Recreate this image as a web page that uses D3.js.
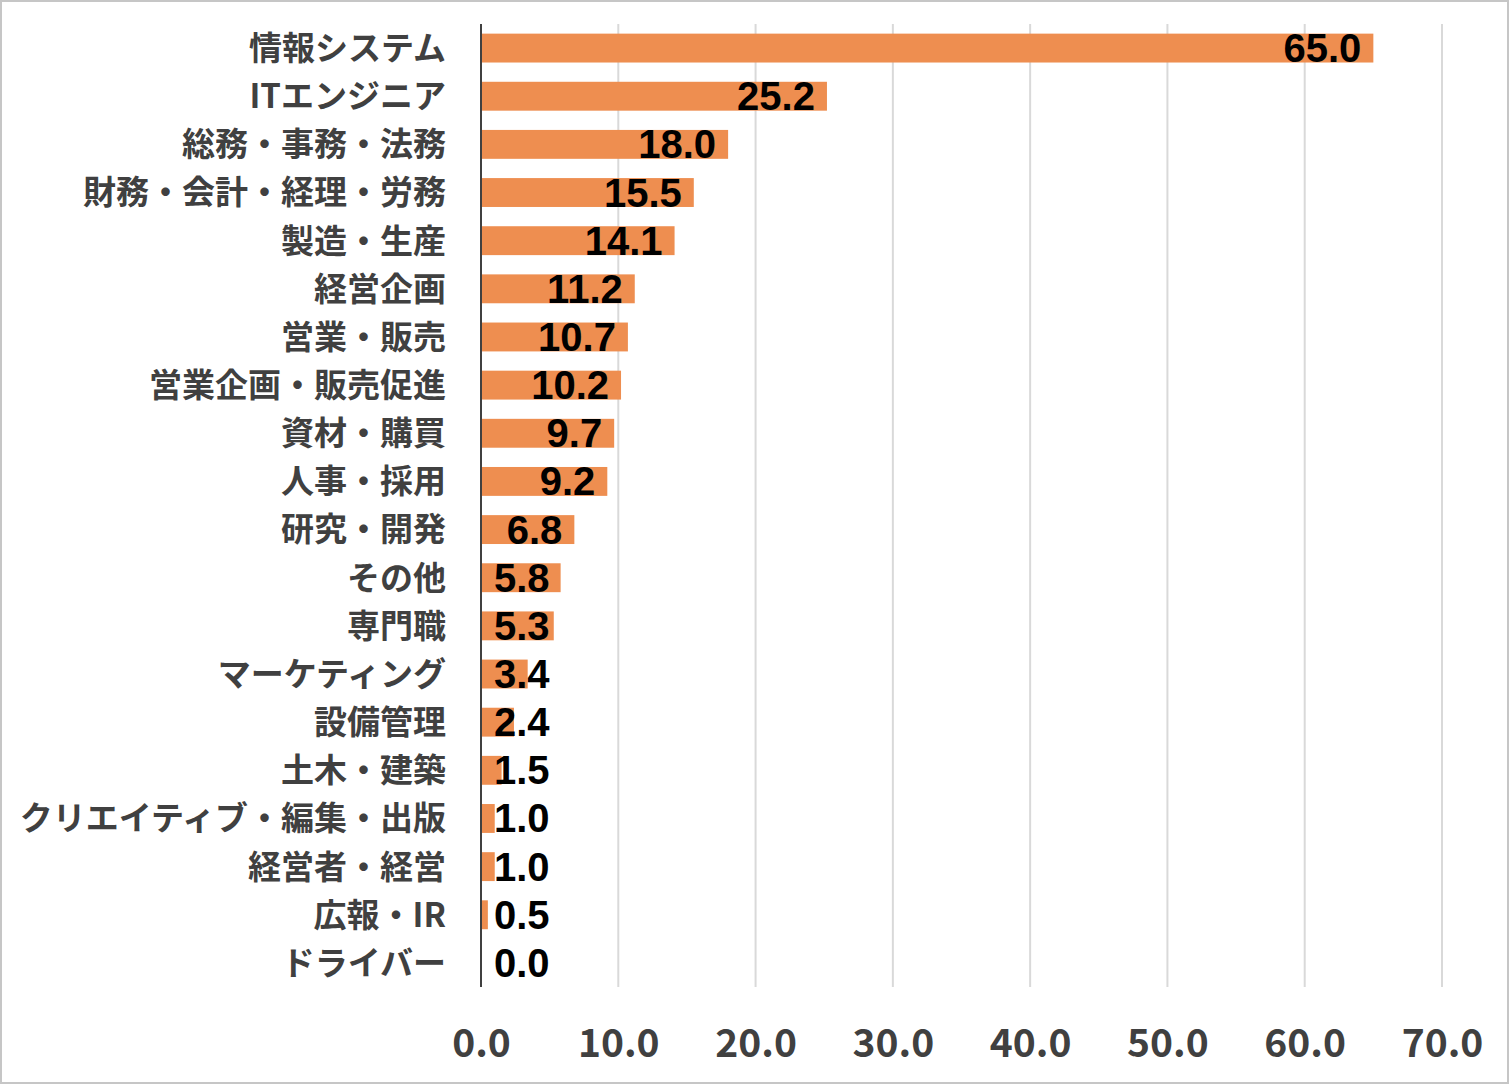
<!DOCTYPE html>
<html><head><meta charset="utf-8">
<script src="https://cdn.jsdelivr.net/npm/d3@7/dist/d3.min.js"></script>
<style>
html,body{margin:0;padding:0;background:#fff;}
svg{display:block;}
</style></head>
<body>
<script>
const categories = ["情報システム","ITエンジニア","総務・事務・法務","財務・会計・経理・労務","製造・生産","経営企画","営業・販売","営業企画・販売促進","資材・購買","人事・採用","研究・開発","その他","専門職","マーケティング","設備管理","土木・建築","クリエイティブ・編集・出版","経営者・経営","広報・IR","ドライバー"];
const values = [65.0,25.2,18.0,15.5,14.1,11.2,10.7,10.2,9.7,9.2,6.8,5.8,5.3,3.4,2.4,1.5,1.0,1.0,0.5,0.0];
const tickValues = [0,10,20,30,40,50,60,70];

(function(){
const W = 1509, H = 1084;
const svg = d3.select("body").append("svg").attr("width", W).attr("height", H);
svg.append("rect").attr("x",1).attr("y",1).attr("width",W-2).attr("height",H-2)
  .attr("fill","#fff").attr("stroke","#c6c6c6").attr("stroke-width",2);

const pl = 481, pr = 1442, pt = 24, pb = 987;
const x = d3.scaleLinear().domain([0,70]).range([pl,pr]);
const y = d3.scaleBand().domain(categories).range([pt,pb]).paddingInner(0.4).paddingOuter(0.2);

// gridlines
svg.append("g").selectAll("line").data(tickValues.slice(1)).join("line")
  .attr("x1",d=>x(d)).attr("x2",d=>x(d)).attr("y1",pt).attr("y2",pb)
  .attr("stroke","#d9d9d9").attr("stroke-width",2);

// bars
svg.append("g").selectAll("rect").data(values).join("rect")
  .attr("x",x(0)).attr("y",(d,i)=>y(categories[i]))
  .attr("width",d=>x(d)-x(0)).attr("height",y.bandwidth())
  .attr("fill","#EE8E50");

// axis line
svg.append("line").attr("x1",pl).attr("x2",pl).attr("y1",pt).attr("y2",pb)
  .attr("stroke","#404040").attr("stroke-width",2);

// category labels
svg.append("g").selectAll("text").data(categories).join("text")
  .attr("x",pl-35).attr("y",d=>y(d)+y.bandwidth()/2)
  .attr("dy","0.36em").attr("text-anchor","end")
  .attr("font-family","'Noto Sans CJK JP'").attr("font-weight","bold")
  .attr("font-size",33).attr("fill","#404040").text(d=>d);

// x tick labels
const xAxis = d3.axisBottom(x).tickValues(tickValues).tickFormat(d3.format(".1f")).tickSize(0).tickPadding(0);
const gx = svg.append("g").attr("transform",`translate(0,${pb})`).call(xAxis);
gx.select(".domain").remove();
gx.selectAll("text").attr("y",70).attr("dy",0)
  .attr("font-family","'Noto Sans CJK JP'").attr("font-weight","bold")
  .attr("font-size",39).attr("fill","#404040");

// value labels
const vl = svg.append("g").selectAll("text").data(values).join("text")
  .attr("y",(d,i)=>y(categories[i])+y.bandwidth()/2)
  .attr("dy","0.35em")
  .attr("font-family","'Liberation Sans', Arial, sans-serif").attr("font-weight","bold")
  .attr("font-size",40).attr("fill","#000").text(d=>d.toFixed(1));
vl.each(function(d){
  const w = this.getComputedTextLength();
  const endX = Math.max(x(d)-12, x(0)+13+w);
  d3.select(this).attr("x",endX).attr("text-anchor","end");
});
})();
</script>
</body></html>
